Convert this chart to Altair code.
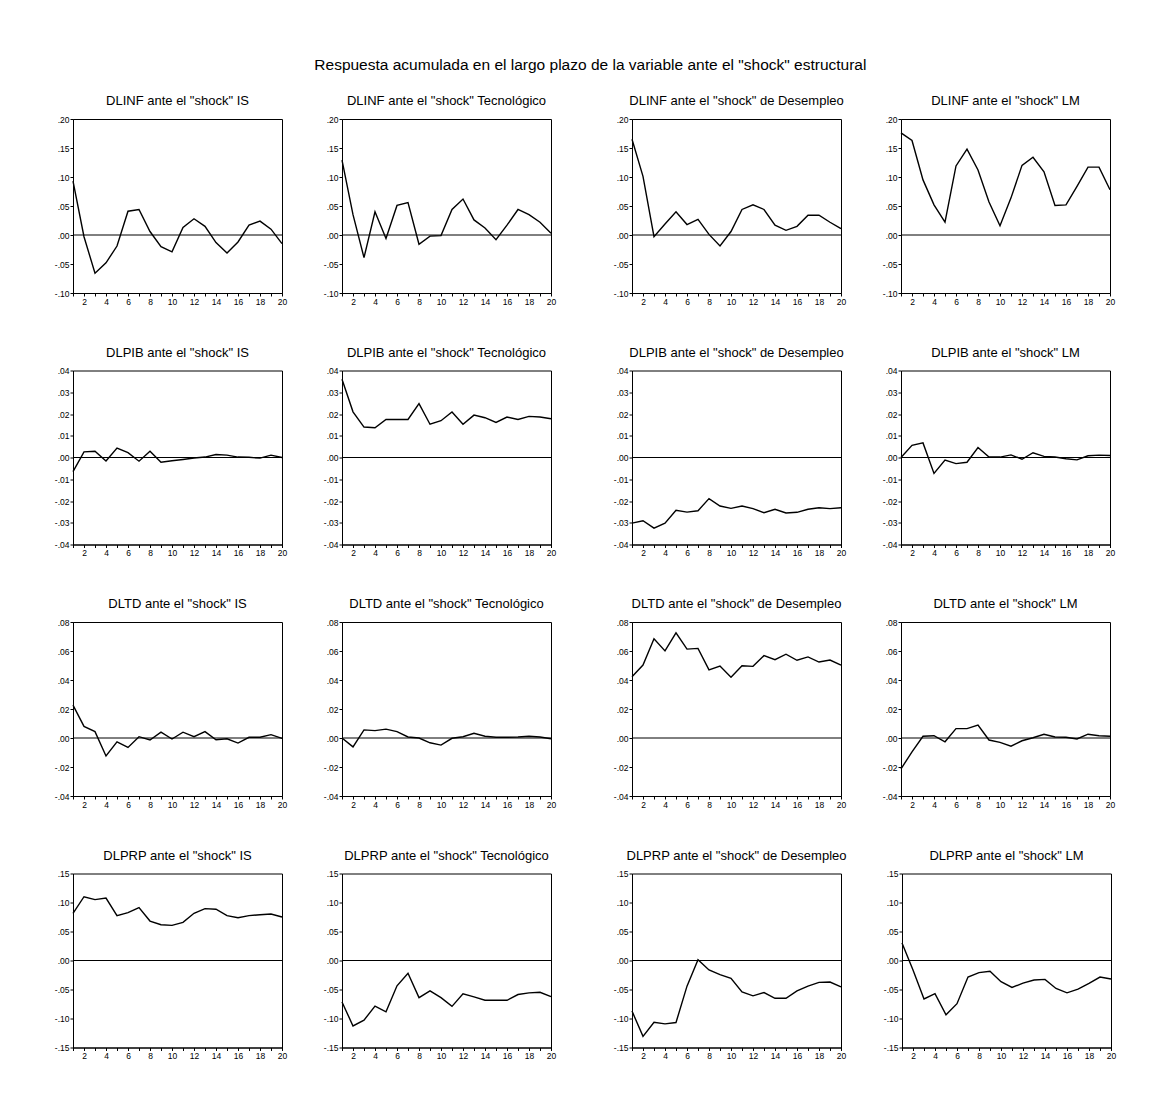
import altair as alt
import pandas as pd

FONT = "Liberation Sans"

periods = list(range(1, 21))
variables = ["DLINF", "DLPIB", "DLTD", "DLPRP"]
shocks = ["IS", "Tecnológico", "de Desempleo", "LM"]
main_title = 'Respuesta acumulada en el largo plazo de la variable ante el "shock" estructural'

# DLINF
dlinf_is = [0.093, -0.003, -0.066, -0.048, -0.019, 0.041, 0.044, 0.006, -0.020, -0.029,
            0.013, 0.028, 0.015, -0.013, -0.031, -0.012, 0.017, 0.024, 0.010, -0.015]
dlinf_tec = [0.129, 0.035, -0.039, 0.040, -0.006, 0.051, 0.056, -0.016, -0.002, -0.001,
             0.044, 0.062, 0.026, 0.012, -0.008, 0.017, 0.044, 0.035, 0.022, 0.003]
dlinf_des = [0.165, 0.101, -0.003, 0.019, 0.040, 0.018, 0.027, 0.001, -0.019, 0.006,
             0.044, 0.052, 0.044, 0.017, 0.008, 0.015, 0.034, 0.034, 0.022, 0.011]
dlinf_lm = [0.176, 0.163, 0.095, 0.052, 0.022, 0.119, 0.148, 0.112, 0.057, 0.016,
            0.064, 0.120, 0.134, 0.109, 0.051, 0.052, 0.084, 0.117, 0.117, 0.078]

# DLPIB
dlpib_is = [-0.0065, 0.0026, 0.0029, -0.0016, 0.0043, 0.0022, -0.0017, 0.0029, -0.0022, -0.0015,
            -0.0009, -0.0002, 0.0002, 0.0014, 0.0011, 0.0002, 0.0001, -0.0003, 0.0011, 0.0000]
dlpib_tec = [0.0360, 0.0210, 0.0140, 0.0137, 0.0175, 0.0175, 0.0175, 0.0248, 0.0153, 0.0169,
             0.0209, 0.0153, 0.0195, 0.0183, 0.0161, 0.0186, 0.0175, 0.0189, 0.0186, 0.0178]
dlpib_des = [-0.0302, -0.0291, -0.0325, -0.0302, -0.0243, -0.0251, -0.0245, -0.0189, -0.0223, -0.0234,
             -0.0223, -0.0235, -0.0254, -0.0238, -0.0255, -0.0252, -0.0238, -0.0231, -0.0235, -0.0231]
dlpib_lm = [0.0000, 0.0056, 0.0067, -0.0073, -0.0012, -0.0028, -0.0022, 0.0046, 0.0002, 0.0002,
            0.0012, -0.0008, 0.0022, 0.0005, 0.0002, -0.0006, -0.0011, 0.0008, 0.0011, 0.0009]

# DLTD
dltd_is = [0.0227, 0.0080, 0.0044, -0.0124, -0.0026, -0.0065, 0.0009, -0.0014, 0.0040, -0.0007,
           0.0040, 0.0009, 0.0044, -0.0012, -0.0005, -0.0035, 0.0005, 0.0005, 0.0023, -0.0002]
dltd_tec = [0.0000, -0.0061, 0.0056, 0.0051, 0.0061, 0.0044, 0.0007, 0.0000, -0.0033, -0.0049,
            -0.0002, 0.0009, 0.0033, 0.0012, 0.0005, 0.0005, 0.0007, 0.0012, 0.0007, -0.0005]
dltd_des = [0.0423, 0.0503, 0.0685, 0.0601, 0.0725, 0.0613, 0.0618, 0.0470, 0.0496, 0.0419,
            0.0498, 0.0494, 0.0568, 0.0540, 0.0578, 0.0536, 0.0559, 0.0524, 0.0538, 0.0503]
dltd_lm = [-0.0213, -0.0096, 0.0012, 0.0016, -0.0026, 0.0065, 0.0065, 0.0089, -0.0014, -0.0030,
           -0.0056, -0.0019, 0.0002, 0.0026, 0.0007, 0.0005, -0.0007, 0.0026, 0.0016, 0.0012]

# DLPRP
dlprp_is = [0.0814, 0.1100, 0.1050, 0.1076, 0.0773, 0.0826, 0.0913, 0.0680, 0.0616, 0.0605,
            0.0657, 0.0814, 0.0895, 0.0884, 0.0773, 0.0738, 0.0773, 0.0790, 0.0802, 0.0750]
dlprp_tec = [-0.0715, -0.1128, -0.1029, -0.0785, -0.0884, -0.0436, -0.0221, -0.0640, -0.0523, -0.0640,
             -0.0791, -0.0576, -0.0628, -0.0686, -0.0686, -0.0686, -0.0587, -0.0558, -0.0547, -0.0622]
dlprp_des = [-0.0872, -0.1308, -0.1064, -0.1093, -0.1070, -0.0442, 0.0012, -0.0163, -0.0244, -0.0308,
             -0.0540, -0.0610, -0.0552, -0.0651, -0.0651, -0.0523, -0.0442, -0.0378, -0.0372, -0.0453]
dlprp_lm = [0.0302, -0.0163, -0.0663, -0.0570, -0.0936, -0.0744, -0.0285, -0.0209, -0.0186, -0.0366,
            -0.0465, -0.0390, -0.0337, -0.0326, -0.0483, -0.0558, -0.0494, -0.0395, -0.0285, -0.0320]

series = {
    "DLINF": [dlinf_is, dlinf_tec, dlinf_des, dlinf_lm],
    "DLPIB": [dlpib_is, dlpib_tec, dlpib_des, dlpib_lm],
    "DLTD": [dltd_is, dltd_tec, dltd_des, dltd_lm],
    "DLPRP": [dlprp_is, dlprp_tec, dlprp_des, dlprp_lm],
}

y_ticks = {
    "DLINF": [-0.10, -0.05, 0.00, 0.05, 0.10, 0.15, 0.20],
    "DLPIB": [-0.04, -0.03, -0.02, -0.01, 0.00, 0.01, 0.02, 0.03, 0.04],
    "DLTD": [-0.04, -0.02, 0.00, 0.02, 0.04, 0.06, 0.08],
    "DLPRP": [-0.15, -0.10, -0.05, 0.00, 0.05, 0.10, 0.15],
}

W, H = 209, 174

y_label_expr = "(datum.value < -1e-9 ? '-' : '') + replace(format(abs(datum.value), '.2f'), '0.', '.')"
x_label_expr = "datum.value % 2 == 0 ? datum.label : ''"


def panel(var, shock, values):
    df = pd.DataFrame({"periodo": periods, "respuesta": values})
    ticks = y_ticks[var]
    x_enc = alt.X(
        "periodo:Q",
        scale=alt.Scale(domain=[1, 20], nice=False, zero=False),
        axis=alt.Axis(values=periods, labelExpr=x_label_expr, title=None,
                      labelFlush=False, labelOverlap=False),
    )
    y_enc = alt.Y(
        "respuesta:Q",
        scale=alt.Scale(domain=[ticks[0], ticks[-1]], nice=False, zero=False),
        axis=alt.Axis(values=ticks, labelExpr=y_label_expr, title=None,
                      labelFlush=False, labelOverlap=False,
                      minExtent=28, maxExtent=28),
    )
    zero = alt.Chart(pd.DataFrame({"respuesta": [0.0]})).mark_rule(
        color="black", strokeWidth=1
    ).encode(y=y_enc)
    line = alt.Chart(df).mark_line(color="black", strokeWidth=1.4).encode(x=x_enc, y=y_enc)
    return alt.layer(zero, line).properties(
        width=W, height=H, title=f'{var} ante el "shock" {shock}'
    )


rows = []
for var in variables:
    p = [panel(var, s, v) for s, v in zip(shocks, series[var])]
    left = alt.hconcat(p[0], p[1], spacing=25)
    right = alt.hconcat(p[2], p[3], spacing=25)
    rows.append(alt.hconcat(left, right, spacing=46))

chart = alt.vconcat(*rows, spacing=39.5).properties(
    title=alt.TitleParams(main_title, fontSize=15.5, font=FONT, fontWeight="normal",
                          anchor="middle", offset=21, color="black", dx=10),
    padding={"left": 36, "top": 50, "right": 20, "bottom": 30},
).configure_view(
    stroke="black", strokeWidth=1
).configure_axis(
    domainColor="black", tickColor="black", labelColor="black",
    labelFont=FONT, labelFontSize=8.5, tickSize=3, labelPadding=1,
    grid=False, domainWidth=1, tickWidth=1,
).configure_title(
    font=FONT, fontSize=13, fontWeight="normal", color="black", offset=7
)

chart.save("out.html", embed_options={"renderer": "svg", "actions": False})
